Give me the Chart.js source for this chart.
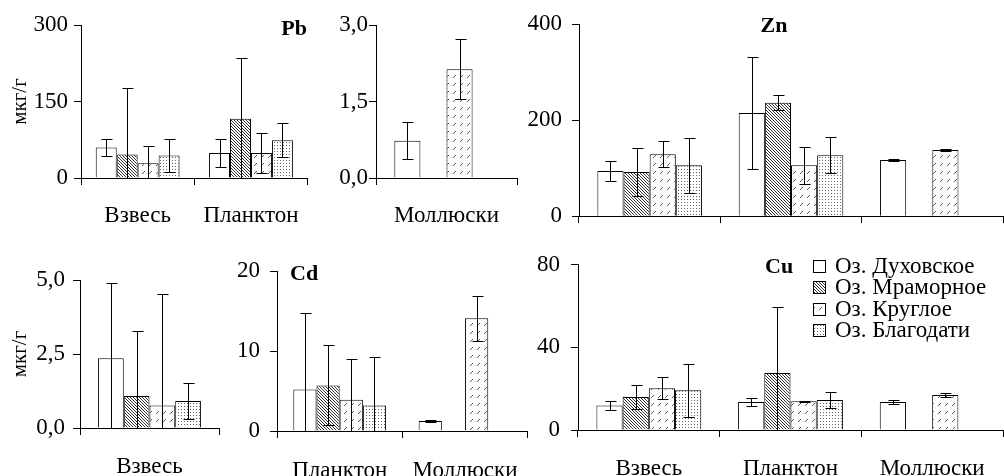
<!DOCTYPE html>
<html>
<head>
<meta charset="utf-8">
<script src="https://cdn.jsdelivr.net/npm/chart.js@4"></script>
<style>
  body { margin: 0; background: #fff; }
  #wrap { position: relative; width: 1004px; height: 476px; overflow: hidden; }
  canvas { position: absolute; }
</style>
</head>
<body>
<div id="wrap">
  <canvas id="pb" width="318" height="240" style="left:0;top:0"></canvas>
  <canvas id="pbMoll" width="200" height="240" style="left:318px;top:0"></canvas>
  <canvas id="zn" width="486" height="240" style="left:518px;top:0"></canvas>
  <canvas id="cdSus" width="230" height="236" style="left:0;top:240px"></canvas>
  <canvas id="cd" width="307" height="236" style="left:230px;top:240px"></canvas>
  <canvas id="cu" width="467" height="236" style="left:537px;top:240px"></canvas>
</div>
<script>
// lakes = series, rows of every mean/err table below
const lakes = ['Оз. Духовское', 'Оз. Мраморное', 'Оз. Круглое', 'Оз. Благодати'];

// Pb, мкг/г
const pbGroups = ['Взвесь', 'Планктон'];
const pbMean = [[60, 49], [46, 116], [29, 49], [44, 74]];
const pbErr = [[17, 27], [131, 119], [34, 40], [32, 33]];
const pbTicks = [0, 150, 300];

const pbMollGroups = ['Моллюски'];
const pbMollMean = [[0.73], [null], [2.13], [null]];
const pbMollErr = [[0.36], [null], [0.59], [null]];
const pbMollTicks = [0, 1.5, 3];

// Zn
const znGroups = ['Взвесь', 'Планктон', 'Моллюски'];
const znMean = [[94, 215, 117], [92, 236, null], [129, 106, 138], [106, 127, null]];
const znErr = [[21, 117, 3], [49, 16, null], [27, 38, 2], [57, 38, null]];
const znTicks = [0, 200, 400];

// Cd
const cdSusGroups = ['Взвесь'];
const cdSusMean = [[2.36], [1.08], [0.76], [0.91]];
const cdSusErr = [[2.53], [2.19], [3.76], [0.6]];
const cdSusTicks = [0, 2.5, 5];

const cdGroups = ['Планктон', 'Моллюски'];
const cdMean = [[5.2, 1.25], [5.7, null], [3.9, 14.1], [3.2, null]];
const cdErr = [[9.6, 0.1], [5.0, null], [5.1, 2.8], [6.0, null]];
const cdTicks = [0, 10, 20];

// Cu
const cuGroups = ['Взвесь', 'Планктон', 'Моллюски'];
const cuMean = [[11.9, 13.6, 13.6], [16.0, 27.6, null], [20.2, 13.9, 17.0], [19.2, 14.5, null]];
const cuErr = [[2.3, 2.1, 1.0], [5.6, 32, null], [5.4, 0.2, 1.0], [13, 4, null]];
const cuTicks = [0, 40, 80];

const serif = "'Liberation Serif', 'Times New Roman', serif";
const fontSize = 23;

// fill patterns for the four lakes
function makePattern(w, h, pts, color) {
  const c = document.createElement('canvas');
  c.width = w; c.height = h;
  const g = c.getContext('2d');
  g.fillStyle = '#fff';
  g.fillRect(0, 0, w, h);
  g.fillStyle = color;
  pts.forEach(p => g.fillRect(p[0], p[1], 1, 1));
  return g.createPattern(c, 'repeat');
}
const fills = [
  '#fff',
  makePattern(3, 3, [[0, 0], [1, 1], [2, 2]], '#333'),
  makePattern(7, 8, [[2, 5], [3, 4], [4, 3]], '#555'),
  makePattern(3, 3, [[1, 1]], '#666')
];

const errorBars = {
  id: 'errorBars',
  afterDatasetsDraw(chart) {
    const { ctx, chartArea, scales } = chart;
    const y = scales.y;
    ctx.save();
    ctx.beginPath();
    ctx.rect(chartArea.left, chartArea.top - 2, chartArea.width, chartArea.height + 2);
    ctx.clip();
    ctx.strokeStyle = '#000';
    ctx.lineWidth = 1;
    chart.data.datasets.forEach((ds, i) => {
      const meta = chart.getDatasetMeta(i);
      ds.errors.forEach((e, j) => {
        const v = ds.data[j];
        if (v == null || e == null) return;
        const x = Math.round(meta.data[j].x) + 0.5;
        const yt = Math.round(y.getPixelForValue(v + e)) + 0.5;
        const yb = Math.round(y.getPixelForValue(v - e)) + 0.5;
        ctx.beginPath();
        ctx.moveTo(x, yt); ctx.lineTo(x, yb);
        ctx.moveTo(x - 5, yt); ctx.lineTo(x + 6, yt);
        if (v - e > 0) { ctx.moveTo(x - 5, yb); ctx.lineTo(x + 6, yb); }
        ctx.stroke();
      });
    });
    ctx.restore();
  }
};

const panelText = {
  id: 'panelText',
  afterDraw(chart, args, opts) {
    if (!opts.text) return;
    const { ctx, chartArea } = chart;
    ctx.save();
    ctx.font = 'bold 22px ' + serif;
    ctx.fillStyle = '#000';
    ctx.textAlign = opts.align || 'left';
    ctx.textBaseline = 'middle';
    ctx.fillText(opts.text, chartArea.left + opts.dx, chartArea.top + opts.dy);
    ctx.restore();
  }
};

const boxLegend = {
  id: 'boxLegend',
  afterDraw(chart, args, opts) {
    if (!opts.show) return;
    const { ctx, chartArea } = chart;
    ctx.save();
    ctx.font = fontSize + 'px ' + serif;
    ctx.textBaseline = 'middle';
    chart.data.datasets.forEach((ds, i) => {
      const x = chartArea.left + opts.dx;
      const yc = chartArea.top + opts.dy + i * opts.step;
      ctx.fillStyle = ds.backgroundColor;
      ctx.fillRect(x, Math.round(yc - 6), 12, 12);
      ctx.strokeStyle = '#000';
      ctx.lineWidth = 1;
      ctx.strokeRect(x + 0.5, Math.round(yc - 6) + 0.5, 12, 12);
      ctx.fillStyle = '#000';
      ctx.fillText(ds.label, x + 22, yc + 1);
    });
    ctx.restore();
  }
};

function panel(id, groups, mean, err, ticks, p) {
  new Chart(document.getElementById(id), {
    type: 'bar',
    data: {
      labels: groups,
      datasets: lakes.map((name, i) => ({
        label: name,
        data: mean[i],
        errors: err[i],
        backgroundColor: fills[i],
        borderColor: '#000',
        borderWidth: 1,
        categoryPercentage: 0.74,
        barPercentage: 1
      }))
    },
    options: {
      responsive: false,
      animation: false,
      events: [],
      layout: { padding: { top: p.top, right: p.right, left: 0, bottom: 0 } },
      plugins: {
        legend: { display: false },
        tooltip: { enabled: false },
        panelText: p.title || {},
        boxLegend: p.legend || {}
      },
      scales: {
        x: {
          grid: { offset: true, drawOnChartArea: false, tickLength: 7, color: '#000' },
          border: { color: '#000' },
          ticks: {
            display: p.labels !== false,
            padding: p.labelPad,
            color: '#000',
            maxRotation: 0,
            autoSkip: false,
            font: { family: serif, size: fontSize }
          },
          afterFit(s) { s.height = p.xH; }
        },
        y: {
          min: ticks[0],
          max: ticks[ticks.length - 1],
          afterBuildTicks(s) { s.ticks = ticks.map(v => ({ value: v })); },
          grid: { drawOnChartArea: false, tickLength: 7, color: '#000' },
          border: { color: '#000' },
          ticks: {
            padding: p.tickPad,
            color: '#000',
            font: { family: serif, size: fontSize },
            callback: v => v.toFixed(p.dec || 0).replace('.', ',')
          },
          title: {
            display: !!p.yTitle,
            text: 'мкг/г',
            color: '#000',
            font: { family: serif, size: 21 },
            padding: { top: 8, bottom: 0 }
          },
          afterFit(s) { s.width = p.yW; }
        }
      }
    },
    plugins: [errorBars, panelText, boxLegend]
  });
}

panel('pb', pbGroups, pbMean, pbErr, pbTicks,
  { top: 25, right: 10, yW: 81, xH: 62, tickPad: 6, labelPad: 17, yTitle: true,
    title: { text: 'Pb', dx: 226, dy: 4, align: 'right' } });
panel('pbMoll', pbMollGroups, pbMollMean, pbMollErr, pbMollTicks,
  { top: 25, right: 1, yW: 58, xH: 62, tickPad: 1, labelPad: 17, dec: 1 });
panel('zn', znGroups, znMean, znErr, znTicks,
  { top: 24, right: 1, yW: 61, xH: 21, tickPad: 10, labelPad: 17, labels: false,
    title: { text: 'Zn', dx: 195, dy: 2, align: 'center' } });
panel('cdSus', cdSusGroups, cdSusMean, cdSusErr, cdSusTicks,
  { top: 40, right: 11, yW: 80, xH: 48, tickPad: 8, labelPad: 18, yTitle: true, dec: 1 });
panel('cd', cdGroups, cdMean, cdErr, cdTicks,
  { top: 31, right: 2, yW: 47, xH: 45, tickPad: 10, labelPad: 19,
    title: { text: 'Cd', dx: 13, dy: 3, align: 'left' } });
panel('cu', cuGroups, cuMean, cuErr, cuTicks,
  { top: 16, right: 1, yW: 41, xH: 46, tickPad: 11, labelPad: 18,
    title: { text: 'Cu', dx: 187, dy: 3, align: 'left' },
    legend: { show: true, dx: 235, dy: 1, step: 21.5 } });
</script>
</body>
</html>
